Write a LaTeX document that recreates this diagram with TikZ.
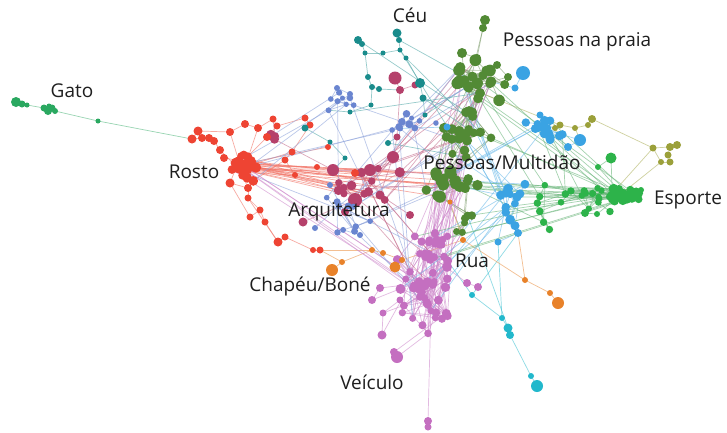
\documentclass[tikz,border=0pt]{standalone}
\usepackage{fontspec}
\setmainfont{Open Sans}
\pgfdeclarelayer{bg}\pgfdeclarelayer{edges}
\pgfsetlayers{bg,edges,main}
\definecolor{cG}{HTML}{2AA860}
\definecolor{cR}{HTML}{EE4433}
\definecolor{cC}{HTML}{1A8C8C}
\definecolor{cM}{HTML}{B5416B}
\definecolor{cB}{HTML}{6A85D0}
\definecolor{cP}{HTML}{528A35}
\definecolor{cL}{HTML}{3AA3E3}
\definecolor{cE}{HTML}{2DB34A}
\definecolor{cY}{HTML}{9BA03A}
\definecolor{cV}{HTML}{C46FC0}
\definecolor{cO}{HTML}{E8822A}
\definecolor{cQ}{HTML}{22B8CC}
\colorlet{eG}{cG!80!white}
\colorlet{eR}{cR!75!white}
\colorlet{eC}{cC!75!white}
\colorlet{eM}{cM!75!white}
\colorlet{eB}{cB!75!white}
\colorlet{eP}{cP!70!gray!80!white}
\colorlet{eL}{cL!75!white}
\colorlet{eE}{cE!70!gray!80!white}
\colorlet{eY}{cY!80!white}
\colorlet{eV}{cV!80!white}
\colorlet{eO}{cO!85!white}
\colorlet{eQ}{cQ!85!white}
\tikzset{
  dot/.style={circle,inner sep=0pt,outer sep=0pt,draw=none},
  lab/.style={font=\fontsize{19}{21}\selectfont,text=black!88,inner sep=0pt},
  ed/.style={line width=0.7pt,draw=#1,draw opacity=0.6},
}
% random blob of nodes: prefix, from, to, cx, cy, sx, sy, dmin, dmax
\newcommand\nblob[9]{%
  \foreach \i in {#2,...,#3}{%
    \pgfmathsetmacro\px{#4+(rnd+rnd-1)*#6}%
    \pgfmathsetmacro\py{#5+(rnd+rnd-1)*#7}%
    \pgfmathsetmacro\mydd{#8+rnd*(#9-#8)}%
    \node[dot,fill=c#1,minimum size=\mydd pt] (#1\i) at (\px,\py) {};%
  }}
% explicit list of nodes: prefix, first index, list x/y/diameter
\newcommand\nlist[3]{%
  \foreach \x/\y/\d [count=\k from #2] in {#3}{%
    \node[dot,fill=c#1,minimum size=\d pt] (#1\k) at (\x,\y) {};}}
% random edges inside a blob
\newcommand\inedg[4]{%
  \foreach \i in {#2,...,#3}{%
    \pgfmathtruncatemacro\j{#2+floor(rnd*(#3-#2+1))}%
    \draw[ed=#4] (#1\i.center) -- (#1\j.center);}}
% random edges between two groups
\newcommand\xedg[8]{%
  \foreach \kk in {1,...,#1}{%
    \pgfmathtruncatemacro\ii{#3+floor(rnd*(#4-#3+1))}%
    \pgfmathtruncatemacro\jj{#6+floor(rnd*(#7-#6+1))}%
    \draw[ed=#8] (#2\ii.center) -- (#5\jj.center);}}
% explicit edges
\newcommand\elist[2]{%
  \foreach \ua/\ub in {#2}{\draw[ed=#1] (\ua.center) -- (\ub.center);}}

\begin{document}
\begin{tikzpicture}[x=1pt,y=-1pt]
\pgfmathsetseed{11}
\begin{pgfonlayer}{bg}\fill[white] (0,0) rectangle (727,432);\end{pgfonlayer}
\useasboundingbox (0,0) rectangle (727,432);

% ---------- nodes ----------
\nlist{G}{1}{16/102/10, 22/104/7, 27/105/5, 44/108/7, 48/111/8, 52/108/7, 55/111/6, 49/106/5, 98/121/5}

\nblob{M}{1}{4}{272}{136}{5}{5}{8}{10}
\nblob{M}{5}{16}{372}{185}{45}{25}{7}{11}
\nlist{M}{17}{355/200/14, 370/170/12, 333/170/12, 393/157/12, 395/78/13, 400/90/8, 415/85/7, 303/222/9, 345/212/8, 410/215/8, 397/137/7, 380/195/9}

\nblob{B}{1}{8}{345}{102}{26}{20}{5}{7}
\nblob{B}{9}{18}{410}{125}{28}{24}{5}{8}
\nblob{B}{19}{28}{345}{215}{32}{28}{5}{7}
\nlist{B}{29}{337/88/6, 350/94/6, 315/228/6, 330/185/6, 360/235/6}

\nblob{R}{1}{28}{246}{168}{16}{17}{8}{11}
\nlist{R}{29}{192/139/9, 198/131/9, 202/138/8, 209/138/8, 214/141/8, 220/150/8, 224/158/8, 230/132/8, 245/124/8, 258/128/8, 273/119/7, 277/126/7, 267/137/8, 292/152/7, 310/125/7, 317/167/6, 230/183/9, 248/188/8, 248/198/7, 260/210/7, 250/217/7, 265/222/7, 278/242/9, 285/237/7, 313/250/6, 320/250/7, 305/118/7, 328/147/6, 355/173/8, 285/160/7, 295/175/6}

\nlist{C}{1}{358/40/8, 362/44/6, 397/33/9, 399/40/6, 365/53/5, 383/53/5, 400/50/5, 406/58/5, 368/77/6, 372/87/6, 379/89/6, 420/83/10, 423/98/7, 371/105/5, 350/112/5, 305/128/7, 345/158/5, 388/143/6, 330/142/5, 425/115/5}

\nblob{V}{1}{40}{425}{295}{34}{42}{7}{10}
\nblob{V}{41}{56}{432}{245}{22}{20}{7}{9}
\nlist{V}{57}{397/357/12, 394/352/8, 428/421/8, 428/427/7, 372/300/8, 380/288/8, 478/287/8, 467/283/8, 383/313/7, 382/335/9, 400/300/7}

\nblob{P}{1}{20}{478}{82}{30}{25}{9}{12}
\nblob{P}{21}{40}{465}{135}{35}{30}{8}{11}
\nblob{P}{41}{60}{455}{185}{32}{18}{9}{12}
\nblob{P}{61}{66}{463}{222}{10}{15}{7}{9}
\nlist{P}{67}{485/20/10, 483/28/8, 462/53/10, 477/58/8, 497/65/8, 508/77/8}

\nblob{L}{1}{16}{545}{130}{22}{15}{7}{10}
\nblob{L}{17}{30}{512}{205}{16}{30}{7}{10}
\nlist{L}{31}{523/73/14, 515/88/7, 580/140/12, 447/127/7, 568/147/8, 498/242/7, 518/233/8, 540/115/7}

\nlist{Q}{1}{472/295/6, 502/318/6, 508/328/9, 510/335/8, 531/376/6, 537/386/12}

\nblob{E}{31}{46}{585}{195}{30}{20}{6}{8}
\nblob{E}{47}{52}{545}{205}{15}{25}{6}{8}
\nblob{E}{1}{30}{625}{195}{22}{9}{7}{10}
\nlist{E}{53}{611/158/11, 598/167/6, 585/213/8, 597/214/6, 641/190/6}

\nlist{Y}{1}{592/119/8, 588/125/6, 575/128/6, 560/125/7, 555/128/6, 653/148/7, 670/147/8, 677/145/8, 668/155/7, 670/162/7, 661/162/6}

\nlist{O}{1}{332/270/12, 342/262/6, 372/250/6, 383/253/6, 395/267/11, 402/260/6, 463/240/6, 525/280/6, 550/293/6, 558/303/12, 450/202/5}

% ---------- labels ----------
\node[lab] (lGato) at (72,91) {Gato};
\node[lab] (lRosto) at (194,172) {Rosto};
\node[lab] (lCeu) at (410,15) {Céu};
\node[lab] (lPraia) at (577,42) {Pessoas na praia};
\node[lab] (lMult) at (502,162) {Pessoas/Multidão};
\node[lab] (lEsp) at (688,200) {Esporte};
\node[lab] (lArq) at (339,212) {Arquitetura};
\node[lab] (lRua) at (472,261) {Rua};
\node[lab] (lChap) at (310,286) {Chapéu/Boné};
\node[lab] (lVei) at (372,382) {Veículo};

% ---------- edges ----------
\begin{pgfonlayer}{edges}
\elist{eG}{G1/G2, G2/G3, G3/G4, G4/G8, G4/G5, G5/G6, G6/G7, G7/G9, G9/R29}
\elist{eR}{R29/R30, R29/R31, R30/R31, R31/R32, R32/R33, R33/R34, R34/R35, R35/R5, R34/R3, R30/R36, R36/R37, R37/R38, R38/R39, R39/R40, R40/R41, R41/R2, R38/R1, R36/R6, R42/R1, R42/R43, R43/R55, R44/R2, R45/R6, R45/R46, R46/R47, R47/R48, R48/R49, R48/R50, R50/R51, R51/R52, R52/R53, R53/R54, R56/R4, R57/R7, R58/R8, R59/R9, R49/R45, R46/R10, R40/R55, R42/R58, R58/R59, R51/R47}
\inedg{R}{1}{28}{eR}
\inedg{R}{1}{28}{eR}
\elist{eM}{M21/M22, M22/M23, M17/M18, M18/M19, M19/M17, M20/M18, M24/M17, M25/M17, M26/M28, M28/M20, M27/M20, M22/M27, M1/M2, M2/M3, M3/M4, M1/R39, M4/M19, M17/M5, M18/M6, M20/M7}
\inedg{M}{5}{16}{eM}
\elist{eC}{C1/C2, C2/C5, C5/C6, C6/C7, C3/C4, C4/C7, C7/C8, C8/C12, C12/C13, C5/C9, C9/C10, C10/C11, C10/C14, C14/C15, C13/C20, C11/M22, C15/B2, C16/C19, C19/C17, C17/M19, C18/M27, C16/R43, C20/P10}
\inedg{B}{1}{8}{eB}
\inedg{B}{9}{18}{eB}
\inedg{B}{19}{28}{eB}
\elist{eB}{B29/B1, B30/B2, B31/B19, B32/B20, B33/B21, B29/B30}
\inedg{P}{1}{20}{eP}
\inedg{P}{1}{20}{eP}
\inedg{P}{21}{40}{eP}
\inedg{P}{21}{40}{eP}
\inedg{P}{41}{60}{eP}
\inedg{P}{41}{60}{eP}
\inedg{P}{61}{66}{eP}
\xedg{12}{P}{1}{20}{P}{21}{40}{eP}
\xedg{12}{P}{21}{40}{P}{41}{60}{eP}
\xedg{6}{P}{41}{60}{P}{61}{66}{eP}
\elist{eP}{P67/P68, P68/P70, P68/P12, P69/P1, P70/P2, P71/P3, P72/P4, P69/P70, P71/P72}
\inedg{L}{1}{16}{eL}
\inedg{L}{17}{30}{eL}
\elist{eL}{L31/L32, L32/P4, L33/L35, L35/L3, L33/L5, L34/B12, L36/L37, L37/L20, L36/L18, L38/L1}
\elist{eQ}{Q1/Q2, Q2/Q3, Q3/Q4, Q4/Q5, Q5/Q6, Q1/V40, Q2/L36, Q3/P63, Q1/L37}
\inedg{E}{1}{30}{eE}
\inedg{E}{1}{30}{eE}
\inedg{E}{31}{46}{eE}
\inedg{E}{47}{52}{eE}
\xedg{10}{E}{31}{46}{E}{1}{30}{eE}
\xedg{5}{E}{47}{52}{E}{31}{46}{eE}
\elist{eE}{E53/E54, E54/E1, E53/E2, E55/E56, E55/E31, E56/E3, E57/E4}
\elist{eY}{Y1/Y2, Y2/Y3, Y3/Y4, Y4/Y5, Y1/Y6, Y6/Y7, Y7/Y8, Y7/Y9, Y9/Y10, Y10/Y11, Y11/Y6, Y6/E5, Y11/E6, Y5/L1, Y4/P20, Y3/L33}
\inedg{V}{1}{40}{eV}
\inedg{V}{1}{40}{eV}
\inedg{V}{41}{56}{eV}
\xedg{12}{V}{1}{40}{V}{41}{56}{eV}
\elist{eV}{V57/V58, V58/V5, V59/V60, V59/V10, V61/V62, V62/V1, V63/V64, V64/V41, V65/V67, V66/V65, V65/V2, V66/V3, V61/V24, V57/V6}
\elist{eO}{O1/O2, O2/O3, O3/O4, O4/O6, O5/O6, O6/O7, O7/O8, O8/O9, O9/O10, O2/R54, O7/O11, O3/R53, O11/P45, O8/L37}
% cross-cluster edges
\xedg{14}{R}{1}{28}{M}{5}{16}{eR}
\xedg{8}{R}{1}{28}{P}{41}{60}{eR}
\xedg{6}{R}{1}{28}{B}{1}{28}{eB}
\xedg{5}{R}{1}{28}{V}{1}{40}{eV}
\xedg{34}{P}{1}{66}{V}{1}{56}{eV}
\xedg{16}{E}{1}{52}{P}{1}{66}{eE}
\xedg{12}{E}{1}{46}{L}{1}{30}{eE}
\xedg{14}{L}{1}{30}{P}{1}{66}{eL}
\xedg{12}{M}{5}{16}{P}{1}{66}{eM}
\xedg{12}{B}{1}{28}{P}{1}{66}{eB}
\xedg{8}{C}{1}{20}{P}{1}{40}{eC}
\xedg{6}{V}{1}{56}{L}{17}{30}{eL}
\xedg{6}{M}{5}{16}{V}{1}{56}{eM}
\xedg{6}{B}{1}{28}{V}{1}{56}{eB}
\xedg{6}{B}{1}{28}{M}{1}{16}{eB}
\xedg{5}{E}{1}{30}{V}{41}{56}{eE}
\end{pgfonlayer}
\end{tikzpicture}
\end{document}
